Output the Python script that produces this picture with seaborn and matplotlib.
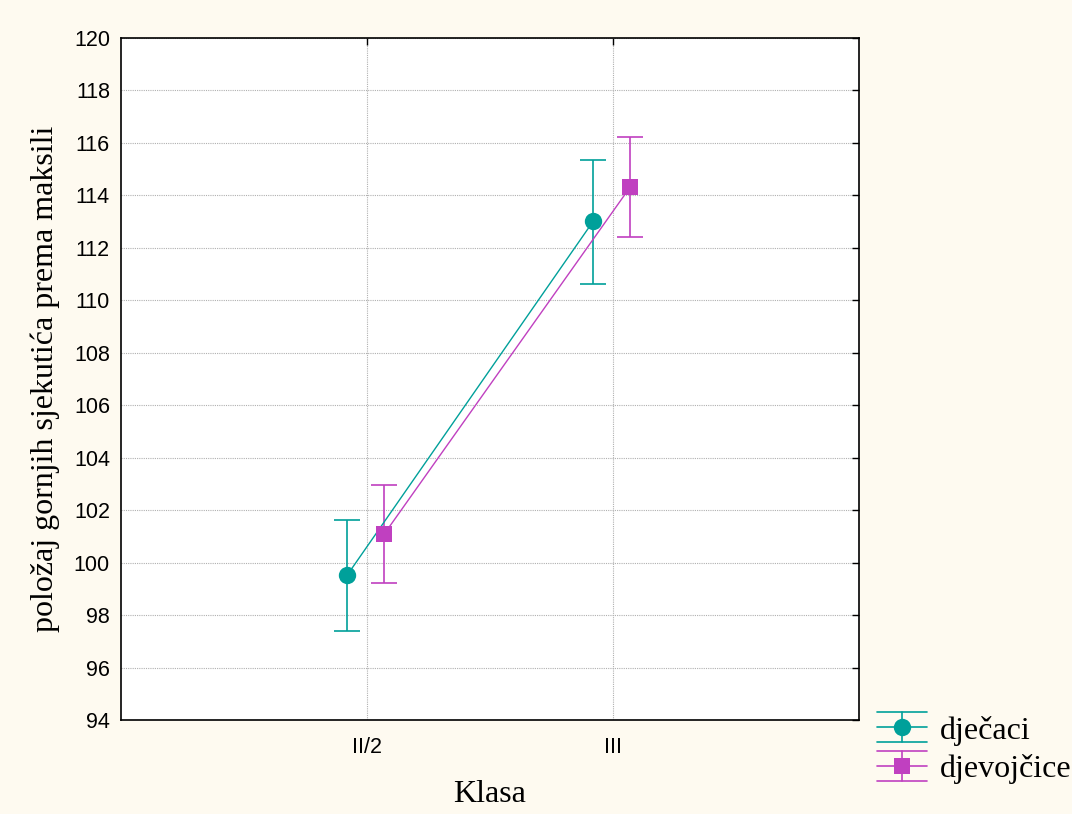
import numpy as np
import pandas as pd
import seaborn as sns
import matplotlib.pyplot as plt
from matplotlib.lines import Line2D
from matplotlib.legend_handler import HandlerBase

# data
classes = ["II/2", "III"]
groups = ["dječaci", "djevojčice"]
means_boys = [99.53, 113.02]
lower_boys = [97.39, 110.62]
upper_boys = [101.62, 115.35]
means_girls = [101.09, 114.32]
lower_girls = [99.22, 112.41]
upper_girls = [102.96, 116.23]

colors = {"dječaci": "#00A09A", "djevojčice": "#C040C0"}
markers = {"dječaci": "o", "djevojčice": "s"}
msizes = {"dječaci": 12.5, "djevojčice": 12}
offsets = {"dječaci": -0.08, "djevojčice": 0.07}


class ErrbarHandler(HandlerBase):
    # legend key: line + marker with horizontal caps across the key width
    def __init__(self, color, marker, ms):
        super().__init__()
        self.color, self.marker, self.ms = color, marker, ms

    def create_artists(self, legend, orig_handle, xdescent, ydescent,
                       width, height, fontsize, trans):
        x0, x1 = -xdescent, -xdescent + width
        xm = (x0 + x1) / 2
        yc = height / 2 - ydescent
        d = 10.8
        kw = dict(color=self.color, linewidth=1.2, transform=trans)
        arts = [Line2D([x0, x1], [yc, yc], **kw),
                Line2D([x0, x1], [yc + d, yc + d], **kw),
                Line2D([x0, x1], [yc - d, yc - d], **kw),
                Line2D([xm, xm], [yc - d, yc + d], **kw),
                Line2D([xm], [yc], marker=self.marker, markersize=self.ms,
                       markeredgewidth=0, linestyle="none", color=self.color,
                       transform=trans)]
        return arts


rows = []
for g, m, lo, hi in [("dječaci", means_boys, lower_boys, upper_boys),
                     ("djevojčice", means_girls, lower_girls, upper_girls)]:
    for i, c in enumerate(classes):
        rows.append({"group": g, "klasa": c, "x": i + 1 + offsets[g],
                     "mean": m[i], "lo": lo[i], "hi": hi[i]})
df = pd.DataFrame(rows)

sns.set_style("white")
plt.rcParams["font.family"] = ["Liberation Sans", "DejaVu Sans"]
plt.rcParams["text.color"] = "black"
plt.rcParams["axes.labelcolor"] = "black"

fig = plt.figure(figsize=(10.72, 8.14), dpi=100, facecolor="#FEFAF0")
ax = fig.add_axes([0.1129, 0.1155, 0.6884, 0.8378])
ax.set_facecolor("white")

sns.lineplot(data=df, x="x", y="mean", hue="group", palette=colors,
             legend=False, linewidth=1.0, ax=ax, zorder=3)

for g in groups:
    d = df[df["group"] == g]
    ax.errorbar(d["x"], d["mean"], yerr=[d["mean"] - d["lo"], d["hi"] - d["mean"]],
                fmt="none", ecolor=colors[g], elinewidth=1.2, capsize=9.5,
                capthick=1.2, zorder=2)
    ax.plot(d["x"], d["mean"], linestyle="none", marker=markers[g],
            markersize=msizes[g], color=colors[g], markeredgewidth=0, zorder=4)

ax.set_xlim(0, 3)
ax.set_ylim(94, 120)
ax.set_xticks([1, 2])
ax.set_xticklabels(classes)
ax.set_yticks(np.arange(94, 121, 2))
ax.tick_params(direction="in", length=5, width=1, top=True, right=True,
               labelsize=15.5, colors="black")
ax.tick_params(axis="x", pad=12)
ax.tick_params(axis="y", pad=8)
ax.grid(True, linestyle=(0, (1, 1)), color="#b0b0b0", linewidth=0.8)
for s in ax.spines.values():
    s.set_color("black")
    s.set_linewidth(1.2)

ax.set_xlabel("Klasa", fontsize=23, family=["Liberation Serif"], labelpad=16)
ax.set_ylabel("položaj gornjih sjekutića prema maksili", fontsize=23,
              family=["Liberation Serif"], labelpad=10)

handles = [Line2D([], [], color=colors[g]) for g in groups]
hmap = {h: ErrbarHandler(colors[g], markers[g], msizes[g]) for h, g in zip(handles, groups)}
fig.legend(handles, groups, handler_map=hmap, loc="upper left",
           bbox_to_anchor=(0.818, 0.121), borderaxespad=0, borderpad=0,
           frameon=False, prop={"family": "Liberation Serif", "size": 23},
           handlelength=1.57, handletextpad=0.4, labelspacing=0.28)

fig.savefig("out.png", dpi=100, facecolor=fig.get_facecolor())
